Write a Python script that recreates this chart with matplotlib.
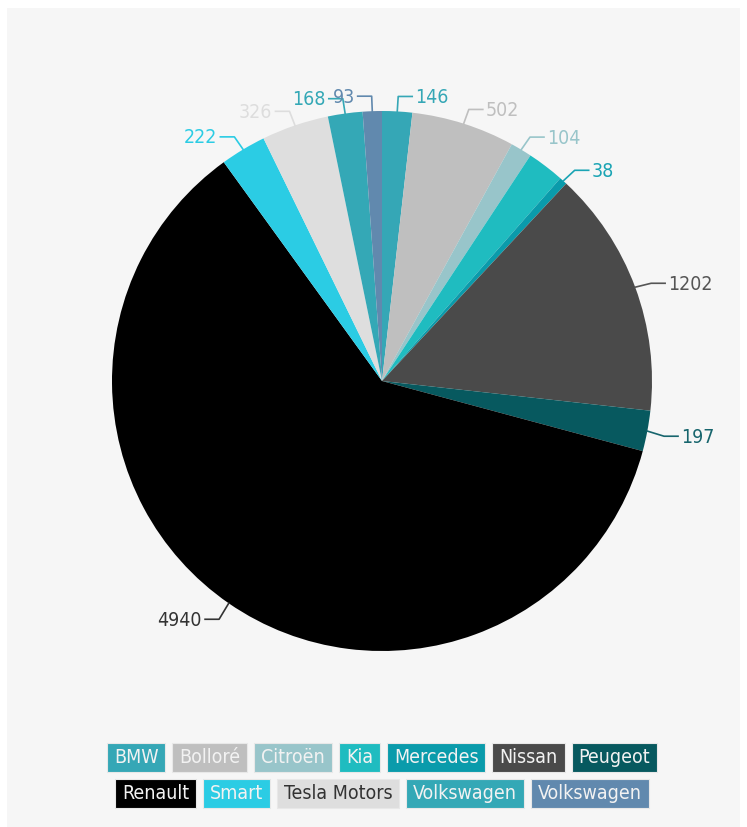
import numpy as np
import matplotlib
matplotlib.use('Agg')
from matplotlib import pyplot as plt
from matplotlib import font_manager
from matplotlib.patches import Rectangle

brands = ['BMW', 'Bolloré', 'Citroën', 'Kia', 'Mercedes', 'Nissan', 'Peugeot',
          'Renault', 'Smart', 'Tesla Motors', 'Volkswagen', 'Volkswagen']
values = [146, 502, 104, 180, 38, 1202, 197, 4940, 222, 326, 168, 93]
show_label = [True, True, True, False, True, True, True, True, True, True, True, True]
colors = ['#35a7b6', '#bfbfbf', '#98c5ca', '#1fbcc0', '#0a9bab', '#4a4a4a', '#07595f',
          '#000000', '#2bcce4', '#dedede', '#34a8b6', '#6189ae']
label_colors = ['#35a7b6', '#bfbfbf', '#98c5ca', '#1fbcc0', '#1aa4b4', '#555555', '#17656d',
                '#333333', '#2bcce4', '#dddddd', '#34a8b6', '#6189ae']

# narrow font if one is around, else Roboto
names = {f.name for f in font_manager.fontManager.ttflist}
stretch = 'normal'
if 'Liberation Sans Narrow' in names:
    family = 'Liberation Sans Narrow'
elif any(f.name == 'DejaVu Sans' and 'ondensed' in f.fname for f in font_manager.fontManager.ttflist):
    family = 'DejaVu Sans'
    stretch = 'condensed'
else:
    family = 'Roboto'
plt.rcParams['font.family'] = [family, 'DejaVu Sans']
plt.rcParams['font.stretch'] = stretch

W, H = 747, 828
fig = plt.figure(figsize=(W / 100, H / 100), dpi=100)
fig.patch.set_facecolor('white')
ax = fig.add_axes([0, 0, 1, 1])

# grey plot background
ax.add_patch(Rectangle((7, 0), 733, H - 9, fc='#f6f6f6', ec='none', zorder=0))

cx, cy, r = 382, H - 382, 270
wedges, _ = ax.pie(values, colors=colors, startangle=90, counterclock=False,
                   center=(cx, cy), radius=r, frame=True,
                   wedgeprops=dict(linewidth=0))
ax.set_xlim(0, W)
ax.set_ylim(0, H)
ax.axis('off')

fs = 14
# data labels with elbow connectors
for w, val, lc, show in zip(wedges, values, label_colors, show_label):
    if not show:
        continue
    ang = np.deg2rad((w.theta1 + w.theta2) / 2)
    ca, sa = np.cos(ang), np.sin(ang)
    p1 = (cx + r * ca, cy + r * sa)
    p2 = (cx + (r + 17) * ca, cy + (r + 17) * sa - 2)
    side = 1 if ca >= 0 else -1
    p3 = (p2[0] + side * 14, p2[1])
    ax.plot([p1[0], p2[0], p3[0]], [p1[1], p2[1], p3[1]], color=lc, lw=1.2, zorder=3)
    ax.text(p3[0] + side * 3, p3[1], str(val), color=lc, fontsize=fs,
            ha='left' if side > 0 else 'right', va='center', zorder=4)

# legend as coloured boxes, two centred rows
fig.canvas.draw()
renderer = fig.canvas.get_renderer()
rows = [list(range(0, 7)), list(range(7, 12))]
row_y = [H - 758, H - 794]
gap = 7
box_h = 29
text_w = []
for b in brands:
    t = ax.text(0, 0, b, fontsize=fs)
    text_w.append(t.get_window_extent(renderer).width)
    t.remove()
# padding chosen so the first row spans about the width of the original (~550 px)
row0 = rows[0]
pad = (550 - sum(text_w[i] for i in row0) - gap * (len(row0) - 1)) / (2 * len(row0))
pad = max(pad, 5)
for row, yc in zip(rows, row_y):
    widths = [text_w[i] + 2 * pad for i in row]
    total = sum(widths) + gap * (len(row) - 1)
    x = cx - total / 2
    for i, bw in zip(row, widths):
        ax.add_patch(Rectangle((x, yc - box_h / 2), bw, box_h, fc=colors[i],
                               ec='#e8e8e8', lw=0.8, zorder=3))
        tc = '#333333' if brands[i] == 'Tesla Motors' else '#f2f2f2'
        ax.text(x + bw / 2, yc, brands[i], color=tc, fontsize=fs,
                ha='center', va='center', zorder=4)
        x += bw + gap

fig.savefig('out.png', dpi=100, facecolor='white')
